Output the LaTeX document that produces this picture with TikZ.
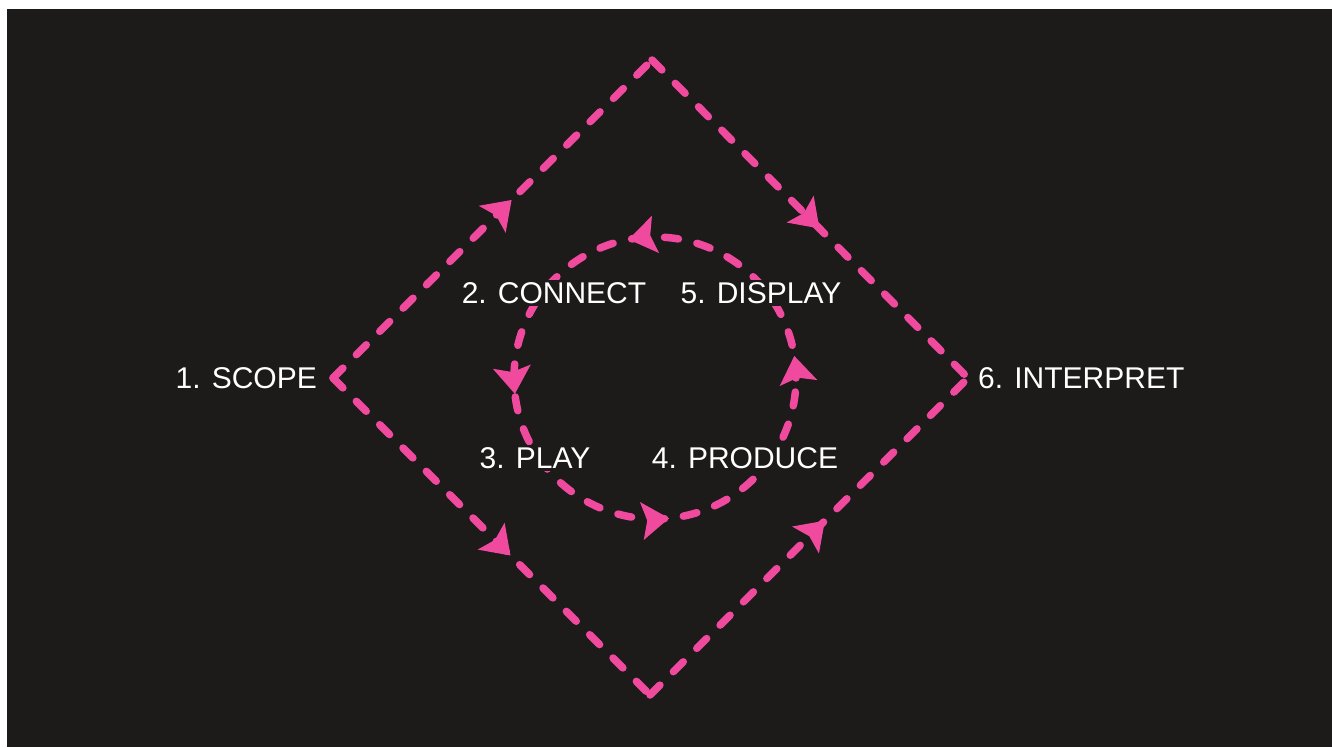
\documentclass[tikz,border=0pt]{standalone}
\usepackage{fontspec}
\setmainfont{Liberation Sans}
\definecolor{cyclepink}{HTML}{F04A9E}
\definecolor{slatebg}{HTML}{1C1B1A}
\usetikzlibrary{arrows.meta, positioning, decorations.markings}
\tikzset{
	pathline/.style={draw=cyclepink, line width=7.5pt, line cap=round,
		dash pattern=on 14pt off 19pt},
	looptip/.tip={Stealth[length=27pt, width=37pt, inset=5pt]},
	midtip/.style={postaction={decorate}, decoration={markings,
		mark=at position #1 with {\arrow{looptip}}}},
	stagelabel/.style={text=white, fill=slatebg, font=\fontsize{30}{36}\selectfont, inner sep=2pt}
}

\begin{document}
\begin{tikzpicture}[x=1pt, y=1pt, node distance=14pt]
	\fill[white] (0,0) rectangle (1332,747);
	\fill[slatebg] (7,0) rectangle (1332,738);
	\coordinate (scopept) at (333,369);
	\coordinate (toppt) at (652,687);
	\coordinate (interppt) at (968,369);
	\coordinate (botpt) at (650,52);
	\coordinate (hub) at (655,369);
	\draw[pathline, midtip=0.56] (scopept) -- (toppt);
	\draw[pathline, midtip=0.53] (toppt) -- (interppt);
	\draw[pathline, midtip=0.56] (scopept) -- (botpt);
	\draw[pathline, midtip=0.55] (botpt) -- (interppt);
	\draw[pathline, postaction={decorate}, decoration={markings,
		mark=at position 0.025 with {\arrow{looptip}},
		mark=at position 0.28 with {\arrow{looptip}},
		mark=at position 0.518 with {\arrow{looptip}},
		mark=at position 0.766 with {\arrow{looptip}}}]
		(hub) circle[radius=141];
	% stage labels sit on top of the loop
	\node[stagelabel, left=of scopept] (scope) {1. SCOPE};
	\node[stagelabel, right=8pt of interppt] (interpret) {6. INTERPRET};
	\node[stagelabel] (connect) at (554,454) {2. CONNECT};
	\node[stagelabel] (display) at (761,454) {5. DISPLAY};
	\node[stagelabel] (play) at (535,289) {3. PLAY};
	\node[stagelabel] (produce) at (745,289) {4. PRODUCE};
\end{tikzpicture}
\end{document}
